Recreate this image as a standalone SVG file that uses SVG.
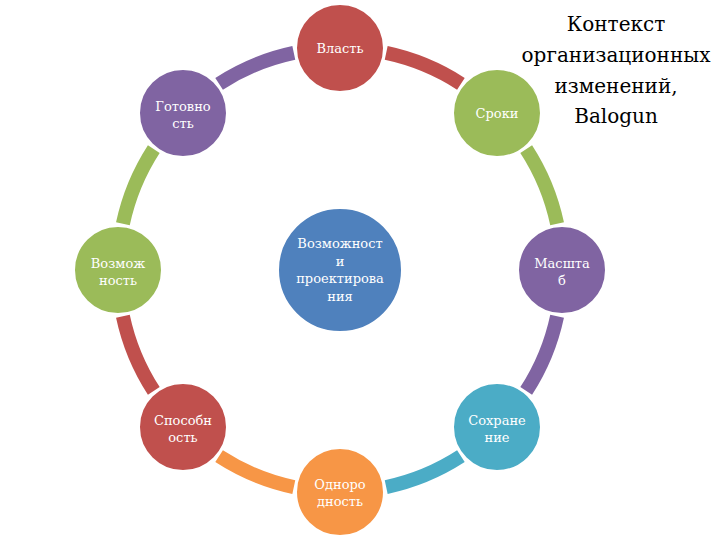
<svg xmlns="http://www.w3.org/2000/svg" width="720" height="540" viewBox="0 0 720 540">
<style>
.arc{fill:none;stroke-width:14;stroke-linecap:butt}
.n{stroke:#fff;stroke-width:2}
.t{font-family:'DejaVu Serif','Liberation Serif',serif;font-size:13px;fill:#fff;text-anchor:middle}
.title{font-family:'DejaVu Serif','Liberation Serif',serif;font-size:20px;fill:#000;text-anchor:middle}
</style>
<rect width="720" height="540" fill="#fff"/>
<g id="connectors">
<path class="arc" stroke="#C0504D" d="M386.2,52.9 A222,222 0 0 1 460.9,83.8"/>
<path class="arc" stroke="#9BBB59" d="M526.2,149.1 A222,222 0 0 1 557.1,223.8"/>
<path class="arc" stroke="#8064A2" d="M557.1,316.2 A222,222 0 0 1 526.2,390.9"/>
<path class="arc" stroke="#4BACC6" d="M460.9,456.2 A222,222 0 0 1 386.2,487.1"/>
<path class="arc" stroke="#F79646" d="M293.8,487.1 A222,222 0 0 1 219.1,456.2"/>
<path class="arc" stroke="#C0504D" d="M153.8,390.9 A222,222 0 0 1 122.9,316.2"/>
<path class="arc" stroke="#9BBB59" d="M122.9,223.8 A222,222 0 0 1 153.8,149.1"/>
<path class="arc" stroke="#8064A2" d="M219.1,83.8 A222,222 0 0 1 293.8,52.9"/>
</g>
<g id="center">
<circle class="n" cx="340" cy="270" r="62" fill="#4F81BD"/>
<text class="t"><tspan x="340" y="248">Возможност</tspan><tspan x="340" y="265.5">и</tspan><tspan x="340" y="283">проектирова</tspan><tspan x="340" y="300.5">ния</tspan></text>
</g>
<g id="vlast">
<circle class="n" cx="340" cy="48" r="44" fill="#C0504D"/>
<text class="t" x="340" y="53">Власть</text>
</g>
<g id="sroki">
<circle class="n" cx="497" cy="113" r="44" fill="#9BBB59"/>
<text class="t" x="497" y="118">Сроки</text>
</g>
<g id="masshtab">
<circle class="n" cx="562" cy="270" r="44" fill="#8064A2"/>
<text class="t"><tspan x="562" y="268">Масшта</tspan><tspan x="562" y="285">б</tspan></text>
</g>
<g id="sohranenie">
<circle class="n" cx="497" cy="427" r="44" fill="#4BACC6"/>
<text class="t"><tspan x="497" y="425">Сохране</tspan><tspan x="497" y="442">ние</tspan></text>
</g>
<g id="odnorodnost">
<circle class="n" cx="340" cy="492" r="44" fill="#F79646"/>
<text class="t"><tspan x="340" y="489">Одноро</tspan><tspan x="340" y="506">дность</tspan></text>
</g>
<g id="sposobnost">
<circle class="n" cx="183" cy="427" r="44" fill="#C0504D"/>
<text class="t"><tspan x="183" y="425">Способн</tspan><tspan x="183" y="442">ость</tspan></text>
</g>
<g id="vozmozhnost">
<circle class="n" cx="118" cy="270" r="44" fill="#9BBB59"/>
<text class="t"><tspan x="118" y="268">Возмож</tspan><tspan x="118" y="285">ность</tspan></text>
</g>
<g id="gotovnost">
<circle class="n" cx="183" cy="113" r="44" fill="#8064A2"/>
<text class="t"><tspan x="183" y="111">Готовно</tspan><tspan x="183" y="128">сть</tspan></text>
</g>
<g id="title">
<text class="title"><tspan x="616" y="31">Контекст</tspan><tspan x="616" y="62">организационных</tspan><tspan x="616" y="93">изменений,</tspan><tspan x="616" y="123">Balogun</tspan></text>
</g>
</svg>
